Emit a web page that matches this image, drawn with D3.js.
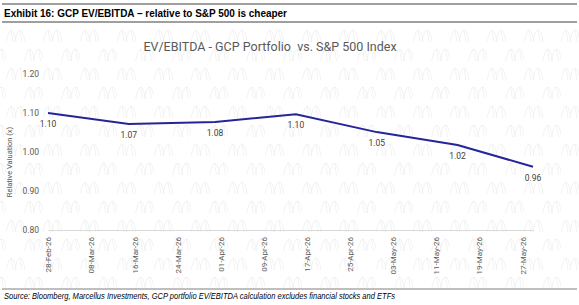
<!DOCTYPE html>
<html>
<head>
<meta charset="utf-8">
<script src="https://cdn.jsdelivr.net/npm/d3@7"></script>
<style>
  body { margin: 0; background: #fff; }
  svg { display: block; font-family: Roboto, "Noto Sans", sans-serif; }
</style>
</head>
<body>
<div id="chart"></div>
<script>
// DATA
var pointDates = ['2026-02-28', '2026-03-15', '2026-03-31', '2026-04-15', '2026-04-30', '2026-05-15', '2026-05-29'];
var relValues  = [1.100, 1.072, 1.077, 1.097, 1.051, 1.018, 0.962];
var tickDates  = ['2026-02-28', '2026-03-08', '2026-03-16', '2026-03-24', '2026-04-01', '2026-04-09',
                  '2026-04-17', '2026-04-25', '2026-05-03', '2026-05-11', '2026-05-19', '2026-05-27'];
var yTicks     = [0.80, 0.90, 1.00, 1.10, 1.20];

var exhibitTitle = 'Exhibit 16: GCP EV/EBITDA \u2013 relative to S&P 500 is cheaper';
var chartTitle   = 'EV/EBITDA - GCP Portfolio  vs. S&P 500 Index';
var yTitle       = 'Relative Valuation (x)';
var sourceNote   = 'Source: Bloomberg, Marcellus Investments, GCP portfolio EV/EBITDA calculation excludes financial stocks and ETFs';

// SETUP
var width = 579, height = 305;
var parse = d3.timeParse('%Y-%m-%d');
var fmtDate = d3.timeFormat('%d-%b-%y');

var series = pointDates.map(function (d, i) {
  return { date: parse(d), value: relValues[i] };
});

var svg = d3.select('#chart').append('svg')
  .attr('width', width)
  .attr('height', height);

/**
 * watermark pattern (logo tiles)
 */
var defs = svg.append('defs');
var pat = defs.append('pattern')
  .attr('id', 'wm')
  .attr('patternUnits', 'userSpaceOnUse')
  .attr('width', 37)
  .attr('height', 38)
  .attr('x', 6)
  .attr('y', 28);

function logo(g, ox, oy) {
  var s = 'M' + ox + ',' + (oy + 12) + ' Q' + (ox + 3) + ',' + oy + ' ' + (ox + 5) + ',' + oy +
          ' Q' + (ox + 8) + ',' + oy + ' ' + (ox + 10) + ',' + (oy + 12) +
          ' M' + (ox + 5) + ',' + oy + ' L' + (ox + 7) + ',' + (oy + 12) +
          ' M' + (ox + 9) + ',' + (oy + 12) + ' Q' + (ox + 11) + ',' + oy + ' ' + (ox + 14) + ',' + oy +
          ' Q' + (ox + 17) + ',' + oy + ' ' + (ox + 19) + ',' + (oy + 12) +
          ' M' + (ox + 14) + ',' + oy + ' L' + (ox + 16) + ',' + (oy + 12);
  g.append('path')
    .attr('d', s)
    .attr('fill', 'none')
    .attr('stroke', '#ededed')
    .attr('stroke-width', 0.7);
}
logo(pat, 0, 2);
logo(pat, 18.5, 21);

svg.append('rect')
  .attr('x', 0).attr('y', 24)
  .attr('width', width).attr('height', 264)
  .attr('fill', 'url(#wm)');

/**
 * exhibit header
 */
svg.append('line')
  .attr('x1', 2).attr('x2', width - 2)
  .attr('y1', 4).attr('y2', 4)
  .attr('stroke', '#7f7f7f').attr('stroke-width', 1.5);
svg.append('line')
  .attr('x1', 2).attr('x2', width - 2)
  .attr('y1', 22).attr('y2', 22)
  .attr('stroke', '#7f7f7f').attr('stroke-width', 1.5);
svg.append('text')
  .attr('x', 4).attr('y', 17)
  .attr('textLength', 283)
  .attr('lengthAdjust', 'spacingAndGlyphs')
  .style('font-family', '"Liberation Sans", Arial, sans-serif')
  .style('font-weight', 'bold')
  .style('font-size', '11px')
  .style('fill', '#000')
  .text(exhibitTitle);

/**
 * scales
 */
var margin = { left: 48, right: 46, top: 74, bottom: 75 };
var x = d3.scaleTime()
  .domain(d3.extent(series, function (d) { return d.date; }))
  .range([margin.left, width - margin.right]);
var y = d3.scaleLinear()
  .domain([0.80, 1.20])
  .range([230, 74]);

// chart title
svg.append('text')
  .attr('x', 270).attr('y', 51)
  .attr('text-anchor', 'middle')
  .style('white-space', 'pre')
  .attr('xml:space', 'preserve')
  .style('font-size', '12.5px')
  .style('fill', '#595959')
  .text(chartTitle);

// y axis (labels only)
var yAxis = svg.append('g')
  .attr('transform', 'translate(' + margin.left + ',0)')
  .call(d3.axisLeft(y).tickValues(yTicks).tickSize(0).tickPadding(9).tickFormat(d3.format('.2f')));
yAxis.select('.domain').remove();
yAxis.selectAll('text')
  .style('font-family', 'Roboto, sans-serif')
  .style('font-size', '8.5px')
  .style('fill', '#595959');

svg.append('text')
  .attr('transform', 'translate(12,' + 162 + ') rotate(-90)')
  .attr('text-anchor', 'middle')
  .style('font-size', '7.5px')
  .style('fill', '#595959')
  .text(yTitle);

// x axis
var xAxis = svg.append('g')
  .attr('transform', 'translate(0,' + y(0.80) + ')')
  .call(d3.axisBottom(x).tickValues(tickDates.map(parse)).tickSize(0).tickFormat(fmtDate));
xAxis.select('.domain')
  .attr('stroke', '#d9d9d9')
  .attr('stroke-width', 1.2);
xAxis.selectAll('text')
  .attr('transform', 'rotate(-90)')
  .attr('x', -7)
  .attr('y', 0)
  .attr('dy', '0.35em')
  .style('text-anchor', 'end')
  .style('font-family', 'Roboto, sans-serif')
  .style('font-size', '8px')
  .style('fill', '#595959');

// line
var line = d3.line()
  .x(function (d) { return x(d.date); })
  .y(function (d) { return y(d.value); });

svg.append('path')
  .datum(series)
  .attr('d', line)
  .attr('fill', 'none')
  .attr('stroke', '#25259a')
  .attr('stroke-width', 2);

// data labels
svg.append('g')
  .selectAll('text')
  .data(series)
  .enter()
  .append('text')
  .attr('x', function (d) { return x(d.date); })
  .attr('y', function (d) { return y(d.value) + 14; })
  .attr('text-anchor', 'middle')
  .style('font-size', '8.5px')
  .style('fill', '#404040')
  .text(function (d) { return d3.format('.2f')(d.value); });

/**
 * source note
 */
svg.append('line')
  .attr('x1', 2).attr('x2', width - 2)
  .attr('y1', 289).attr('y2', 289)
  .attr('stroke', '#7f7f7f').attr('stroke-width', 1);
svg.append('text')
  .attr('x', 4).attr('y', 299)
  .attr('textLength', 391)
  .attr('lengthAdjust', 'spacingAndGlyphs')
  .style('font-family', '"Liberation Sans", Arial, sans-serif')
  .style('font-style', 'italic')
  .style('font-size', '8.5px')
  .style('fill', '#000')
  .text(sourceNote);
</script>
</body>
</html>
